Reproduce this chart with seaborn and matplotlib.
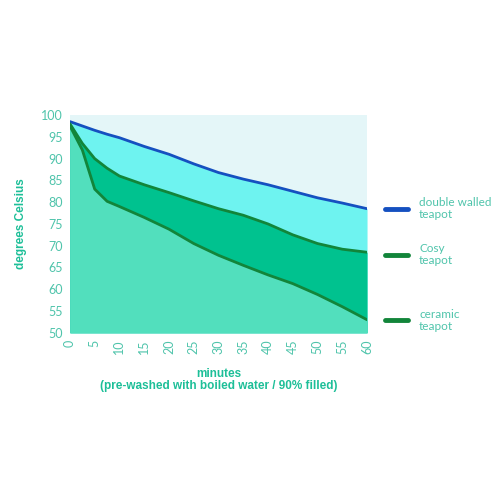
import numpy as np
import pandas as pd
import seaborn as sns
import matplotlib.pyplot as plt
from matplotlib.lines import Line2D

# Werte
minutes = [0, 2.5, 5, 7.5, 10, 15, 20, 25, 30, 35, 40, 45, 50, 55, 60]
double_walled = [98.5, 97.5, 96.5, 95.6, 94.8, 92.8, 91.0, 88.8, 86.8, 85.3, 84.0, 82.5, 81.0, 79.8, 78.5]
cosy = [98.0, 93.5, 90.0, 87.8, 86.0, 84.0, 82.2, 80.3, 78.5, 77.0, 75.0, 72.5, 70.5, 69.2, 68.5]
ceramic = [97.5, 92.0, 83.0, 80.2, 79.0, 76.5, 73.8, 70.5, 67.8, 65.5, 63.3, 61.3, 58.8, 56.0, 53.0]

labels = ['double walled\nteapot', 'Cosy\nteapot', 'ceramic\nteapot']
xticks = list(range(0, 61, 5))
yticks = list(range(50, 101, 5))

df = pd.DataFrame({'minutes': minutes, 'double': double_walled, 'cosy': cosy, 'ceramic': ceramic})
long = df.melt(id_vars='minutes', var_name='pot', value_name='temp')

sns.set_style('white')
plt.rcParams['font.family'] = ['Lato', 'DejaVu Sans']

teal = '#1dbf98'
ticktxt = '#4fc4ab'
blue = '#1550c0'
green = '#12853a'

fig = plt.figure(figsize=(4.96, 4.96), dpi=100)
ax = fig.add_axes([0.141, 0.329, 0.599, 0.439])
ax.set_facecolor('#e4f6f8')

# Flaechen
ax.fill_between(df['minutes'], 50, df['double'], color='#6ef3f0', lw=0)
ax.fill_between(df['minutes'], 50, df['cosy'], color='#00c28f', lw=0)
ax.fill_between(df['minutes'], 50, df['ceramic'], color='#52dfbd', lw=0)

sns.lineplot(data=long, x='minutes', y='temp', hue='pot',
             palette={'double': blue, 'cosy': green, 'ceramic': green},
             linewidth=2.0, legend=False, ax=ax)

ax.set_xlim(0, 60)
ax.set_ylim(50, 100)
ax.set_xticks(xticks)
ax.set_xticklabels([str(t) for t in xticks], rotation=90, color=ticktxt, fontsize=9)
ax.set_yticks(yticks)
ax.set_yticklabels([str(t) for t in yticks], color=ticktxt, fontsize=9)
ax.tick_params(axis='both', direction='in', length=3, width=1.2, color='white', pad=5)
for s in ax.spines.values():
    s.set_visible(False)

ax.set_xlabel('minutes\n(pre-washed with boiled water / 90% filled)', color=teal,
              fontweight='bold', fontsize=8.5, family=['Liberation Sans', 'DejaVu Sans'],
              labelpad=10, linespacing=1.0)
ax.set_ylabel('degrees Celsius', color=teal, fontweight='bold', fontsize=8.5,
              family=['Liberation Sans', 'DejaVu Sans'], labelpad=10)

# Legende rechts
leg_y = [0.579, 0.486, 0.354]
leg_c = [blue, green, green]
for lab, yy, c in zip(labels, leg_y, leg_c):
    fig.add_artist(Line2D([0.776, 0.822], [yy, yy], color=c, lw=3.5, transform=fig.transFigure))
    fig.text(0.845, yy, lab, color=ticktxt, fontsize=8.5, va='center',
             ha='left', linespacing=1.1)

fig.savefig('out.png', dpi=100)
